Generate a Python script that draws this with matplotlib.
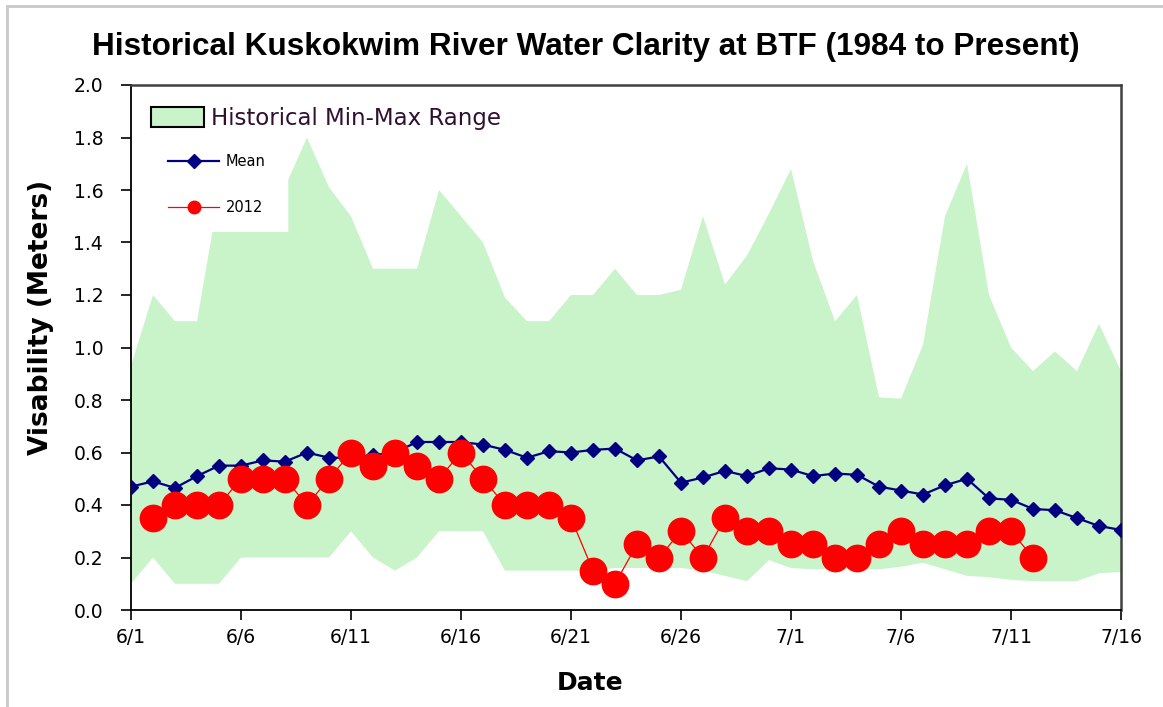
import matplotlib
matplotlib.use("Agg")
import matplotlib.pyplot as plt
from matplotlib.patches import Patch, Rectangle
from matplotlib.lines import Line2D

# day offsets from 6/1
tick_days = [0, 5, 10, 15, 20, 25, 30, 35, 40, 45]
tick_labels = ["6/1", "6/6", "6/11", "6/16", "6/21", "6/26", "7/1", "7/6", "7/11", "7/16"]

mean_days = list(range(46))
mean_vals = [0.47, 0.49, 0.465, 0.51, 0.55, 0.55, 0.57, 0.565, 0.60, 0.58,
             0.58, 0.59, 0.60, 0.64, 0.64, 0.64, 0.63, 0.61, 0.58, 0.605,
             0.60, 0.61, 0.615, 0.57, 0.585, 0.485, 0.505, 0.53, 0.51, 0.54,
             0.535, 0.51, 0.52, 0.515, 0.47, 0.455, 0.44, 0.475, 0.50, 0.425,
             0.42, 0.385, 0.38, 0.35, 0.32, 0.305]

y2012_days = list(range(1, 42))
y2012_vals = [0.35, 0.4, 0.4, 0.4, 0.5, 0.5, 0.5, 0.4, 0.5, 0.6,
              0.55, 0.6, 0.55, 0.5, 0.6, 0.5, 0.4, 0.4, 0.4, 0.35,
              0.15, 0.1, 0.25, 0.2, 0.3, 0.2, 0.35, 0.3, 0.3, 0.25,
              0.25, 0.2, 0.2, 0.25, 0.3, 0.25, 0.25, 0.25, 0.3, 0.3, 0.2]

max_days = [0, 1, 2, 3, 3.7, 7.15, 7.15, 8, 9, 10, 11, 12, 13, 14, 15, 16, 17,
            18, 19, 20, 21, 22, 23, 24, 25, 26, 27, 28, 29, 30, 31, 32, 33,
            34, 35, 36, 37, 38, 39, 40, 41, 42, 43, 44, 45]
max_vals = [0.93, 1.2, 1.1, 1.1, 1.44, 1.44, 1.64, 1.80, 1.61, 1.5, 1.3, 1.3,
            1.3, 1.6, 1.5, 1.4, 1.19, 1.1, 1.1, 1.2, 1.2, 1.3, 1.2, 1.2, 1.22,
            1.5, 1.24, 1.35, 1.51, 1.68, 1.33, 1.1, 1.2, 0.81, 0.805, 1.01,
            1.5, 1.7, 1.2, 1.0, 0.91, 0.985, 0.91, 1.09, 0.91]

min_days = list(range(46))
min_vals = [0.1, 0.2, 0.1, 0.1, 0.1, 0.2, 0.2, 0.2, 0.2, 0.2,
            0.3, 0.2, 0.15, 0.2, 0.3, 0.3, 0.3, 0.15, 0.15, 0.15,
            0.15, 0.15, 0.16, 0.16, 0.16, 0.16, 0.15, 0.13, 0.11, 0.19,
            0.16, 0.155, 0.155, 0.155, 0.155, 0.165, 0.18, 0.155, 0.13, 0.125,
            0.115, 0.11, 0.11, 0.11, 0.14, 0.145]

fig = plt.figure(figsize=(11.63, 7.07), dpi=100)
fig.patches.append(Rectangle((7 / 1163, -0.05), 1.2, 1 - 6 / 707 + 0.05,
                             transform=fig.transFigure, fill=False,
                             edgecolor="#c8c8c8", linewidth=2))
ax = fig.add_axes([131 / 1163, 1 - 610 / 707, 990 / 1163, 525 / 707])

band_x = max_days + min_days[::-1]
band_y = max_vals + min_vals[::-1]
ax.fill(band_x, band_y, color="#c9f3c9", linewidth=0, zorder=1)

ax.plot(mean_days, mean_vals, color="#000080", linewidth=1.6, marker="D",
        markersize=7, zorder=3)
ax.plot(y2012_days, y2012_vals, color="#ff0000", linewidth=0.9, marker="o",
        markersize=19, zorder=4)

ax.set_xlim(0, 45)
ax.set_ylim(0, 2.0)
ax.set_xticks(tick_days)
ax.set_xticklabels(tick_labels)
ax.set_yticks([i * 0.2 for i in range(11)])
ax.set_yticklabels([f"{i * 0.2:.1f}" for i in range(11)])
ax.tick_params(direction="out", length=7, width=1.2, labelsize=13.5,
               colors="black")
ax.tick_params(axis="x", pad=6)
ax.tick_params(axis="y", pad=13)

for side in ["left", "bottom"]:
    ax.spines[side].set_color("black")
    ax.spines[side].set_linewidth(1.3)
for side in ["top", "right"]:
    ax.spines[side].set_color("#404040")
    ax.spines[side].set_linewidth(1.8)

title = fig.text(586 / 1163, 1 - 47 / 707,
                 "Historical Kuskokwim River Water Clarity at BTF (1984 to Present)",
                 ha="center", va="center", fontsize=20, fontweight="bold",
                 family=["Liberation Sans Narrow", "Liberation Sans", "DejaVu Sans"])
fig.canvas.draw()
w = title.get_window_extent().width
title.set_fontsize(20 * 983 / w)

ax.set_xlabel("Date", fontsize=18, fontweight="bold")
ax.xaxis.set_label_coords((590 - 131) / 990, (610 - 671) / 525)
ax.set_ylabel("Visability (Meters)", fontsize=19, fontweight="bold")
ax.yaxis.set_label_coords((54 - 131) / 990, (610 - 317) / 525)

leg1 = ax.legend(handles=[Patch(facecolor="#c9f3c9", edgecolor="black",
                                linewidth=1.5)],
                 labels=["Historical Min-Max Range"], loc="center left",
                 bbox_to_anchor=(0.0202, 0.937), frameon=False, borderpad=0,
                 borderaxespad=0, fontsize=16.5, handlelength=2.3,
                 handleheight=1.0, handletextpad=0.3, labelcolor="#301030")
ax.add_artist(leg1)

handles = [Line2D([], [], color="#000080", linewidth=1.6, marker="D",
                  markersize=7),
           Line2D([], [], color="#ff0000", linewidth=0.9, marker="o",
                  markersize=9)]
ax.legend(handles=handles, labels=["Mean", "2012"], loc="center left",
          bbox_to_anchor=(0.0374, 0.8105), frameon=False, borderpad=0,
          borderaxespad=0, fontsize=10.5, handlelength=3.5,
          handletextpad=0.45, labelspacing=2.1)

fig.savefig("out.png", dpi=100)
